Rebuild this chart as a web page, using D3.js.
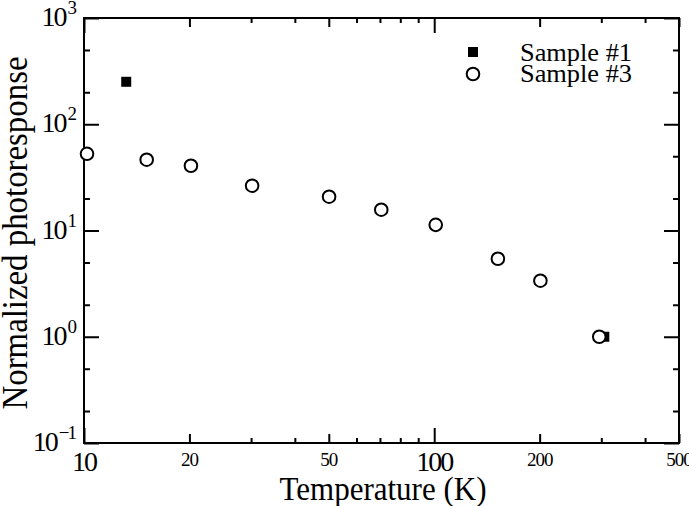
<!doctype html>
<html lang="en">
<head>
  <meta charset="utf-8">
  <title>Normalized photoresponse vs temperature</title>
  <script type="text/javascript" src="https://cdnjs.cloudflare.com/ajax/libs/d3/7.8.5/d3.min.js"></script>
  <style>
    body { margin: 0; background: #fff; }
    text { font-family: "Liberation Serif", "DejaVu Serif", serif; fill: #000; }
  </style>
</head>
<body>
  <svg width="689" height="506" id="svg"></svg>
</body>
<script type="text/javascript">

	// values
	var sample1Temp = [13.2, 306];
	var sample1Resp = [251, 1.0];

	var sample3Temp = [10.2, 15.1, 20.2, 30.2, 50.1, 70.6, 101, 152, 201, 296];
	var sample3Resp = [52.7, 46.4, 40.7, 26.4, 20.8, 15.7, 11.3, 5.42, 3.37, 1.0];

	var xTicks = [10, 20, 30, 40, 50, 60, 70, 80, 90, 100, 200, 300, 400, 500];
	var xBigLabels = [10, 100];
	var xSmallLabels = [20, 50, 200, 500];
	var yTicks = [0.1, 0.2, 0.5, 1, 2, 5, 10, 20, 50, 100, 200, 500, 1000];
	var yLabelExp = [-1, 0, 1, 2, 3];
	var legendNames = ['Sample #1', 'Sample #3'];

	// plot box (window.top is reserved, so no plain "top")
	var plotL = 84, plotR = 679, plotT = 18, plotB = 443;

	var x = d3.scaleLog().domain([10, 500]).range([plotL, plotR]);
	var y = d3.scaleLog().domain([0.1, 1000]).range([plotB, plotT]);

	var svg = d3.select('#svg');

	/* tick length depends on the decade position */
	function xLen(d) {
		if (d === 10 || d === 100) return 15;
		if (xSmallLabels.indexOf(d) >= 0) return 9;
		return 5;
	}
	function yLen(d) {
		var l = Math.log10(d);
		return Math.abs(l - Math.round(l)) < 1e-9 ? 15 : 6;
	}

	function styleAxis(g) {
		g.select('.domain').remove();
		g.selectAll('.tick line').attr('stroke', '#000').attr('stroke-width', 2);
		g.selectAll('.tick text').remove();
	}

	svg.append('g').attr('transform', 'translate(0,' + plotB + ')')
		.call(d3.axisBottom(x).tickValues(xTicks).tickSizeOuter(0))
		.call(styleAxis)
		.selectAll('.tick line').attr('y2', function(d) { return -xLen(d); });

	svg.append('g').attr('transform', 'translate(0,' + plotT + ')')
		.call(d3.axisTop(x).tickValues(xTicks).tickSizeOuter(0))
		.call(styleAxis)
		.selectAll('.tick line').attr('y2', function(d) { return xLen(d); });

	svg.append('g').attr('transform', 'translate(' + plotL + ',0)')
		.call(d3.axisLeft(y).tickValues(yTicks).tickSizeOuter(0))
		.call(styleAxis)
		.selectAll('.tick line').attr('x2', function(d) { return yLen(d); });

	svg.append('g').attr('transform', 'translate(' + plotR + ',0)')
		.call(d3.axisRight(y).tickValues(yTicks).tickSizeOuter(0))
		.call(styleAxis)
		.selectAll('.tick line').attr('x2', function(d) { return -yLen(d); });

	// frame
	svg.append('rect')
		.attr('x', plotL).attr('y', plotT)
		.attr('width', plotR - plotL).attr('height', plotB - plotT)
		.attr('fill', 'none').attr('stroke', '#000').attr('stroke-width', 2);

	// x tick labels
	svg.selectAll('.xbig').data(xBigLabels).enter().append('text')
		.attr('x', function(d) { return x(d); })
		.attr('y', 471)
		.attr('text-anchor', 'middle')
		.attr('font-size', 28)
		.attr('letter-spacing', -2)
		.text(function(d) { return d; });

	svg.selectAll('.xsmall').data(xSmallLabels).enter().append('text')
		.attr('x', function(d) { return x(d); })
		.attr('y', 466)
		.attr('text-anchor', 'middle')
		.attr('font-size', 19)
		.attr('letter-spacing', -1)
		.text(function(d) { return d; });

	// y tick labels, 10^n
	var yl = svg.selectAll('.ylab').data(yLabelExp).enter().append('text')
		.attr('x', 75)
		.attr('y', function(d) { return y(Math.pow(10, d)) + 8; })
		.attr('text-anchor', 'end')
		.attr('font-size', 28)
		.attr('letter-spacing', -2);
	yl.append('tspan').text('10');
	yl.append('tspan')
		.attr('font-size', 19)
		.attr('dy', -12)
		.attr('dx', 2)
		.text(function(d) { return d < 0 ? '\u2212' + (-d) : d; });

	// axis titles
	svg.append('text')
		.attr('x', 383).attr('y', 500)
		.attr('text-anchor', 'middle')
		.attr('font-size', 33)
		.attr('textLength', 207)
		.attr('lengthAdjust', 'spacingAndGlyphs')
		.text('Temperature (K)');

	svg.append('text')
		.attr('transform', 'translate(27,233) rotate(-90)')
		.attr('text-anchor', 'middle')
		.attr('font-size', 35)
		.attr('textLength', 353)
		.attr('lengthAdjust', 'spacingAndGlyphs')
		.text('Normalized photoresponse');

	// data
	var s = 10;
	svg.selectAll('.s1').data(sample1Temp).enter().append('rect')
		.attr('x', function(d) { return x(d) - s / 2; })
		.attr('y', function(d, i) { return y(sample1Resp[i]) - s / 2; })
		.attr('width', s).attr('height', s)
		.attr('fill', '#000');

	svg.selectAll('.s3').data(sample3Temp).enter().append('circle')
		.attr('cx', function(d) { return x(d); })
		.attr('cy', function(d, i) { return y(sample3Resp[i]); })
		.attr('r', 6.3)
		.attr('fill', '#fff')
		.attr('stroke', '#000')
		.attr('stroke-width', 2);

	// legend
	var lg = svg.append('g');
	lg.append('rect').attr('x', 468).attr('y', 47).attr('width', s).attr('height', s).attr('fill', '#000');
	lg.append('circle').attr('cx', 473).attr('cy', 74).attr('r', 6.3)
		.attr('fill', '#fff').attr('stroke', '#000').attr('stroke-width', 2);
	lg.selectAll('text').data(legendNames).enter().append('text')
		.attr('x', 520)
		.attr('y', function(d, i) { return 61 + i * 21; })
		.attr('font-size', 26)
		.attr('textLength', 112)
		.attr('lengthAdjust', 'spacingAndGlyphs')
		.text(function(d) { return d; });

</script>
</html>
